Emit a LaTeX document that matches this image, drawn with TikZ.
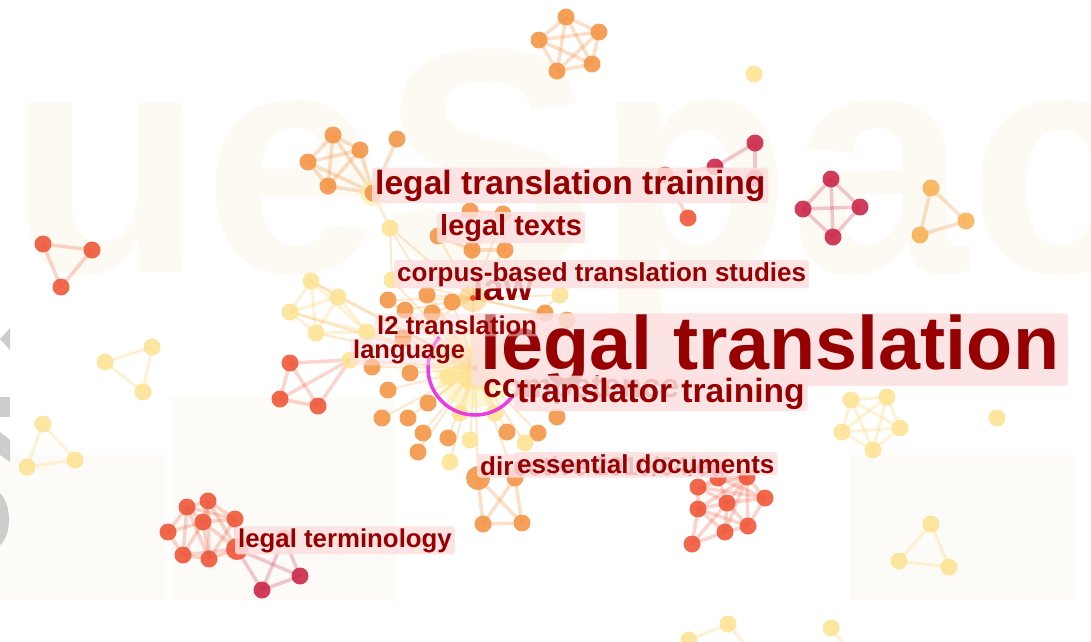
\documentclass[tikz,border=0pt]{standalone}
\usepackage{fontspec}
\setmainfont{Liberation Sans}
\definecolor{cOr}{RGB}{245,150,72}
\definecolor{cLo}{RGB}{248,178,88}
\definecolor{cRd}{RGB}{240,88,58}
\definecolor{cCr}{RGB}{205,40,75}
\definecolor{cYl}{RGB}{253,228,150}
\definecolor{cYe}{RGB}{253,215,120}
\definecolor{cSp}{RGB}{250,190,110}
\definecolor{cHub}{RGB}{235,80,40}
\definecolor{cHalo}{RGB}{253,238,160}
\definecolor{cHaloB}{RGB}{253,225,130}
\definecolor{cHaloW}{RGB}{250,200,100}
\definecolor{cMag}{RGB}{235,60,225}
\definecolor{cBox}{RGB}{253,224,224}
\definecolor{cTxt}{RGB}{150,0,0}
\definecolor{cBg}{RGB}{252,251,247}
\definecolor{cWm}{RGB}{252,250,242}
\definecolor{cGrey}{RGB}{205,205,205}
\begin{document}
\begin{tikzpicture}[x=1pt,y=-1pt,
  nd/.style={circle,inner sep=0pt,minimum size=17pt,draw=none,fill opacity=0.9},
  on/.style={nd,fill=cOr},
  lo/.style={nd,fill=cLo},
  rd/.style={nd,fill=cRd},
  cr/.style={nd,fill=cCr},
  yl/.style={nd,fill=cYl},
  hub/.style={circle,inner sep=0pt,minimum size=6pt,fill=cHub},
  eo/.style={line width=3.5pt,draw=cOr,opacity=0.3},
  er/.style={line width=3.5pt,draw=cRd,opacity=0.25},
  ec/.style={line width=3.5pt,draw=cCr,opacity=0.25},
  ey/.style={line width=3pt,draw=cYe,opacity=0.3},
  ez/.style={line width=2pt,draw=cSp,opacity=0.35},
  lbl/.style={fill=cBox,fill opacity=0.85,text opacity=1,text=cTxt,rounded corners=3pt,
    inner xsep=3pt,inner ysep=0.2em,anchor=base west},
  fz/.style={font=\bfseries\fontsize{#1}{#1}\selectfont},
  grey/.style={fill=cGrey}
]
\useasboundingbox[fill=white] (0,0) rectangle (1091,641);
% faint background
\fill[cBg] (0,455) rectangle (165,600);
\fill[cBg] (172,397) rectangle (395,600);
\fill[cBg] (850,455) rectangle (1075,600);
\node[anchor=base west,inner sep=0pt,text=cWm,fz=320] (wm) at (8,272) {ueSpac};
% left edge grey marks
\fill[grey] (10,328) -- (0,339) -- (10,350) -- cycle;
\fill[grey] (0,397) rectangle (10,417);
\fill[grey] (0,432) -- (10,440) -- (10,462) -- (0,455) -- cycle;
\fill[grey] (0,493) .. controls (12,505) and (12,535) .. (0,545) -- cycle;

% ---------- coordinates ----------
\foreach \n/\x/\y in {t1/566/17,t2/599/32,t3/539/40,t4/592/64,t5/557/71,y0/754/74,
  u1/333/135,u2/360/150,u3/308/162,u4/328/186,u5/373/193,u6/397/139,
  c1/755/143,c2/715/167,c3/665/175,c4/688/218,c5/755/178,
  d1/831/179,d2/803/209,d3/860/207,d4/833/237,
  o1/931/188,o2/966/221,o3/920/235,
  l1/43/244,l2/92/250,l3/61/287,
  a1/152/347,a2/105/362,a3/143/392,b1/43/424,b2/27/467,b3/75/460,
  w1/311/281,w2/338/297,w3/290/312,w4/316/333,
  r1/290/363,r2/280/399,r3/318/406,rj/350/360,
  hw/473/298,hl/475/368}
  {\coordinate (\n) at (\x,\y);}
\foreach \n/\x/\y in {ca/427/295,cb/452/302,cc/405/310,cd/432/313,ce/545/313,cf/567/320,cg/403/338,
  ch/372/367,ci/410/373,cj/388/390,ck/428/403,cl/382/418,cm/408/418,cn/423/433,co/448/438,cp/418/452,
  cq/507/432,cr2/538/433,cs/557/417,ct/388/300,e1/470/211,e2/503/214,e3/438/236,e4/472/250,e5/505/250}
  {\coordinate (\n) at (\x,\y);}
\foreach \n/\x/\y in {ya/390/228,yb/367/332,yc/560/295,yd/448/377,ye/467/380,yf/470/440,yg/450/462,
  yh/525/443,yi/495/413,yj/460/413,yk/392/280}
  {\coordinate (\n) at (\x,\y);}
\foreach \n/\x/\y in {g1/478/478,g2/515/478,g3/483/524,g4/522/523,
  m1/747/477,m2/698/487,m3/765/498,m4/727/503,m5/698/509,m6/748/526,m7/725/532,m8/692/544,m9/718/478,
  n1/187/507,n2/208/501,n3/203/522,n4/235/519,n5/168/532,n6/183/555,n7/209/559,n8/237/549,
  k1/300/576,k2/262/590,k3/284/538,
  p1/851/400,p2/887/397,p3/842/432,p4/900/428,p5/873/450,q1/931/524,q2/899/561,q3/949/567,
  y2/997/418,z1/689/640,z2/728/624,z3/831/628}
  {\coordinate (\n) at (\x,\y);}

% ---------- edges ----------
\foreach \i/\j in {1/2,1/3,1/4,1/5,2/3,2/4,2/5,3/4,3/5,4/5} {\draw[eo] (t\i) -- (t\j); \draw[eo] (u\i) -- (u\j); \draw[ey] (p\i) -- (p\j);}
\draw[eo] (u5) -- (u6);
\draw[ez] (u5) -- (ya); \draw[ez] (ya) -- (yk); \draw[ez] (ya) -- (hw);
\draw[ec] (c1) -- (c2); \draw[ec] (c1) -- (c5); \draw[ec] (c2) -- (c5);
\draw[er] (c3) -- (c4); \draw[er] (c3) -- (c2);
\foreach \i/\j in {1/2,1/3,1/4,2/3,2/4,3/4} \draw[ec] (d\i) -- (d\j);
\foreach \i/\j in {1/2,1/3,2/3} {\draw[eo] (o\i) -- (o\j); \draw[er] (l\i) -- (l\j); \draw[ey] (a\i) -- (a\j); \draw[ey] (b\i) -- (b\j); \draw[ey] (q\i) -- (q\j); \draw[er] (r\i) -- (r\j);}
\foreach \i/\j in {1/2,1/3,1/4,2/3,2/4,3/4} \draw[ey] (w\i) -- (w\j);
\foreach \i in {1,2,3,4} {\draw[ey] (w\i) -- (yb); \draw[ez] (w\i) -- (hl);}
\foreach \i in {1,2,3} \draw[er] (r\i) -- (rj);
\draw[ez] (rj) -- (hl);
\foreach \n in {ca,cb,cc,cd,ce,cf,cg,ch,ci,cj,ck,cl,cm,cn,co,cp,cq,cr2,cs,ct,ya,yb,yc,yd,ye,yf,yg,yh,yi,yj,yk,g1,g2}
  \draw[ez] (\n) -- (hl);
\foreach \n in {ca,cb,cc,cd,ce,cf,ct,yk,yc,e1,e2,e3,e4,e5,cg}
  \draw[ez] (\n) -- (hw);
\draw[ez] (hw) -- (hl);
\foreach \i/\j in {1/2,1/3,2/4,3/4,4/5,2/5} \draw[eo] (e\i) -- (e\j);
\draw[eo] (g1) -- (g3); \draw[eo] (g1) -- (g4); \draw[eo] (g2) -- (g3); \draw[eo] (g2) -- (g4); \draw[eo] (g3) -- (g4);
\foreach \i/\j in {1/2,1/3,1/4,1/5,1/6,1/7,1/9,2/4,2/5,2/9,3/4,3/6,3/9,4/5,4/6,4/7,4/9,5/7,5/8,6/7,4/8,7/8,5/6,2/3}
  \draw[er] (m\i) -- (m\j);
\foreach \i/\j in {1/2,1/3,1/4,1/5,1/6,2/3,2/4,2/8,3/4,3/5,3/6,3/7,3/8,4/8,4/7,5/6,6/7,7/8,6/8,1/7,2/7}
  \draw[er] (n\i) -- (n\j);
\draw[ec] (n8) -- (k1); \draw[ec] (n8) -- (k2); \draw[ec] (k1) -- (k2); \draw[ec] (k2) -- (k3); \draw[ec] (k1) -- (k3);
\draw[ey] (z1) -- (z2); \draw[ey] (z2) -- ++(20,25); \draw[ey] (z3) -- ++(15,20);

% halos
\fill[cHalo,opacity=0.45] (hl) circle (40);
\fill[cHaloB,opacity=0.5] (hl) circle (22);
\fill[cHaloW,opacity=0.5] (hw) circle (14);
\fill[cHalo,opacity=0.6] (u5) circle (13);

% ---------- nodes ----------
\foreach \n in {t1,t2,t3,t4,t5,u1,u2,u3,u4,u5,u6,ca,cb,cc,cd,ce,cf,cg,ch,ci,cj,ck,cl,cm,cn,co,cp,cq,cr2,cs,ct,e1,e2,e3,e4,e5,g2,g3,g4}
  \node[on] at (\n) {};
\foreach \n in {o1,o2,o3}
  \node[lo] at (\n) {};
\foreach \n in {y0,a1,a2,a3,b1,b2,b3,w1,w2,w3,w4,rj,ya,yb,yc,yd,ye,yf,yg,yh,yi,yj,yk,p1,p2,p3,p4,p5,q1,q2,q3,y2,z1,z2,z3}
  \node[yl] at (\n) {};
\node[on,minimum size=24pt] at (g1) {};
\foreach \n in {c3,c4,l1,l2,l3,r1,r2,r3,m1,m2,m3,m4,m5,m6,m7,m8,m9,n1,n2,n3,n4,n5,n6,n7,k3}
  \node[rd] at (\n) {};
\node[rd,minimum size=22pt] at (n8) {};
\foreach \n in {c1,c2,c5,d1,d2,d3,d4,k1,k2}
  \node[cr] at (\n) {};
\node[hub] (hubw) at (hw) {};
\node[hub] (hubl) at (hl) {};
% magenta ring
\draw[line width=3.5pt,cMag] (hl) ++(221:47) arc[start angle=221,end angle=34,radius=47];

% ---------- labels ----------
\node[lbl,fz=33.6] (L1) at (372,194) {legal translation training};
\node[lbl,fz=29] (L2) at (437,235) {legal texts};
\node[lbl,fz=37,fill opacity=0] (L3) at (470,300) {law};
\node[lbl,fz=26] (L4) at (394,281) {corpus-based translation studies};
\node[lbl,fz=75.5,inner xsep=9pt,inner ysep=0.1em] (L8) at (471,369) {legal translation};
\node[lbl,fz=25.7,fill opacity=0.5] (L5) at (374,334) {l2 translation};
\node[lbl,fz=25.5,fill opacity=0.5] (L6) at (350,358) {language};
\node[lbl,fz=33.6,fill opacity=0] (L7) at (480,397) {competence};
\node[lbl,fz=33.6] (L9) at (514,402) {translator training};
\node[lbl,fz=26] (L10) at (477,475) {directive 2010/64/eu};
\node[lbl,fz=26] (L11) at (514,473) {essential documents};
\node[lbl,fz=25.8] (L12) at (235,547) {legal terminology};
\end{tikzpicture}
\end{document}
